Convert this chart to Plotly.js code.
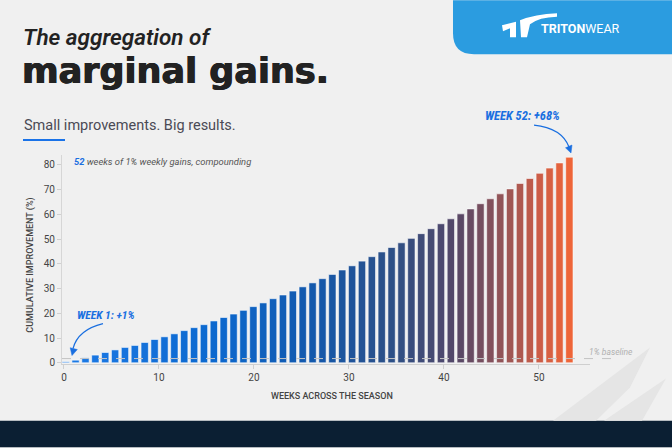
<!DOCTYPE html>
<html><head><meta charset="utf-8">
<script src="https://cdn.plot.ly/plotly-3.0.1.min.js"></script>
<style>html,body{margin:0;padding:0;background:#f0f0f0;}#chart{width:672px;height:448px;}</style>
</head><body><div id="chart"></div>
<script>
// ---- data ----
const weeks = [0,1,2,3,4,5,6,7,8,9,10,11,12,13,14,15,16,17,18,19,20,21,22,23,24,25,26,27,28,29,30,31,32,33,34,35,36,37,38,39,40,41,42,43,44,45,46,47,48,49,50,51];
const improvement = [0.4,1.05,2.0,3.1,4.15,5.2,6.2,7.0,8.2,9.4,10.5,11.7,13.0,14.2,15.4,16.9,18.3,19.7,21.2,22.7,24.2,25.9,27.4,29.0,30.7,32.3,34.0,35.7,37.5,39.2,41.1,42.9,44.8,46.6,48.5,50.3,52.2,54.2,56.2,58.2,60.2,62.2,64.3,66.3,68.3,70.3,72.5,74.5,76.6,78.7,80.8,83.1];
const xTickVals = [0,10,20,30,40,50];
const yTickVals = [0,10,20,30,40,50,60,70,80];
const baselineValue = [1.7];

// ---- layout geometry (pixels) ----
const W = 672, H = 448;
const L = 62, R = 590, T = 155, B = 364.5;
const PW = R - L, PH = B - T;
const px = x => (x - L) / PW;
const py = y => (B - y) / PH;
function path(cmds){
  return cmds.map(c => c[0] + ' ' + c.slice(1).reduce((a,v,i)=>{a.push(i%2===0?px(v).toFixed(5):py(v).toFixed(5));return a;},[]).join(',')).join(' ');
}

// gradient colours
const stops = [[0,[28,122,230]],[0.3,[12,104,206]],[0.5,[20,88,170]],[0.65,[46,80,134]],[0.78,[87,71,102]],[0.86,[143,84,89]],[0.94,[203,93,71]],[1,[238,101,56]]];
function grad(t){
  for(let i=0;i<stops.length-1;i++){
    const [t0,c0]=stops[i],[t1,c1]=stops[i+1];
    if(t<=t1){const f=(t-t0)/(t1-t0);return 'rgb('+c0.map((v,k)=>Math.round(v+(c1[k]-v)*f)).join(',')+')';}
  }
  return 'rgb(238,101,56)';
}
const barColors = weeks.map((w,i)=>grad(i/(weeks.length-1)));

const bars = {
  type:'bar', x: weeks, y: improvement, xaxis:'x', yaxis:'y',
  width: 0.74,
  marker:{color: barColors, line:{color:'rgba(255,255,255,0.55)', width:1}},
  hoverinfo:'skip'
};
const axisCarrier = {
  type:'scatter', mode:'markers', x: xTickVals, y: xTickVals.map(()=>0), xaxis:'x2', yaxis:'y',
  marker:{opacity:0}, hoverinfo:'skip', showlegend:false
};

const blue = '#1a6fe0';
const shapes = [
  {type:'path', xref:'paper', yref:'paper', layer:'below', fillcolor:'#2b9ce0', line:{width:0},
   path: path([['M',453,0],['L',672,0],['L',672,54],['L',474,54],['Q',453,54,453,33]]) + ' Z'},
  {type:'rect', xref:'paper', yref:'paper', layer:'below', fillcolor:'#0b1f33', line:{width:0},
   x0:px(0), x1:px(672), y0:py(421.5), y1:py(448)},
  {type:'path', xref:'paper', yref:'paper', layer:'below', fillcolor:'#e5e5e5', line:{width:0},
   path: path([['M',553,421.5],['L',650,348],['L',630,388],['L',596,421.5]]) + ' Z'},
  {type:'path', xref:'paper', yref:'paper', layer:'below', fillcolor:'#e5e5e5', line:{width:0},
   path: path([['M',604,421.5],['L',666,379],['L',642,421.5]]) + ' Z'},
  {type:'rect', xref:'paper', yref:'paper', fillcolor:'#1a73e8', line:{width:0},
   x0:px(23), x1:px(65), y0:py(141), y1:py(139)},
  {type:'line', xref:'paper', yref:'y', x0:0, x1:px(617), y0:baselineValue[0], y1:baselineValue[0],
   line:{color:'#c4c4c4', width:1, dash:'dash'}},
  {type:'path', xref:'paper', yref:'paper', fillcolor:'#ffffff', line:{width:0},
   path: path([['M',502,25],['L',516,21.5],['L',516,37],['L',510,37],['L',510,28],['L',503,31]]) + ' Z'},
  {type:'path', xref:'paper', yref:'paper', fillcolor:'#ffffff', line:{width:0},
   path: path([['M',520,20],['Q',535,14,557,13],['L',557,16.5],['Q',539,17,530,24],['L',527,37],['L',521,37]]) + ' Z'},
  {type:'path', xref:'paper', yref:'paper', line:{color:blue, width:1.2},
   path: path([['M',534,125],['Q',562,128,569,147]])},
  {type:'path', xref:'paper', yref:'paper', fillcolor:blue, line:{color:blue, width:0.5},
   path: path([['M',571,153],['L',572,145],['L',565.5,147.8]]) + ' Z'},
  {type:'path', xref:'paper', yref:'paper', line:{color:blue, width:1.2},
   path: path([['M',103,324],['Q',78,330,73,349]])},
  {type:'path', xref:'paper', yref:'paper', fillcolor:blue, line:{color:blue, width:0.5},
   path: path([['M',72,356],['L',77.3,350],['L',70.2,348.2]]) + ' Z'}
];

const ann = (text, x, y, font, extra) => Object.assign({
  text, xref:'paper', yref:'paper', x:px(x), y:py(y), showarrow:false,
  xanchor:'left', yanchor:'middle', font
}, extra||{});

const narrow = 'Liberation Sans Narrow, Roboto Condensed, Roboto, sans-serif';
const annotations = [
  ann('The aggregation of', 21, 37, {family:'Roboto, sans-serif', size:22.5, color:'#222', style:'italic', weight:600}),
  ann('marginal gains.', 20, 71, {family:'DejaVu Sans, sans-serif', size:35, color:'#222', weight:700, shadow:'0.7px 0 0 #222, -0.4px 0 0 #222'}),
  ann('Small improvements. Big results.', 22, 125.5, {family:'Roboto, sans-serif', size:14.5, color:'#4a4a55'}),
  ann('<b>TRITON</b>WEAR', 539, 28.5, {family:'Roboto, sans-serif', size:12.5, color:'#ffffff'}),
  ann('<b style="color:#1a6fe0">52</b> weeks of 1% weekly gains, compounding', 72, 161.5, {family:'Roboto, sans-serif', size:9.4, color:'#555', style:'italic'}),
  ann('WEEK 52: +68%', 483, 115, {family:narrow, size:12.5, color:blue, style:'italic', weight:700}),
  ann('WEEK 1: +1%', 75, 315, {family:narrow, size:11.5, color:blue, style:'italic', weight:700}),
  ann('1% baseline', 587, 352, {family:'Roboto, sans-serif', size:8.5, color:'#b0b0b0', style:'italic'}),
  ann('CUMULATIVE IMPROVEMENT (%)', 31, 265, {family:'Roboto, sans-serif', size:9, color:'#444', weight:500}, {textangle:-90, xanchor:'center'}),
  ann('WEEKS ACROSS THE SEASON', 332, 397, {family:'Roboto, sans-serif', size:9, color:'#444', weight:500}, {xanchor:'center'})
];

const tickFont = {family:'Roboto, sans-serif', size:10, color:'#444'};
const layout = {
  width:W, height:H,
  margin:{l:L, r:W-R, t:T, b:H-B, pad:0},
  paper_bgcolor:'#f0f0f0', plot_bgcolor:'rgba(0,0,0,0)',
  showlegend:false, bargap:0,
  xaxis:{range:[-0.375, 53.09], visible:false, fixedrange:true},
  xaxis2:{overlaying:'x', anchor:'y', side:'bottom', range:[-0.21, 55.37], tickvals:xTickVals,
    showgrid:false, zeroline:false, showline:true, linecolor:'#cfcfcf', linewidth:1,
    ticks:'outside', ticklen:4, tickcolor:'#cfcfcf', tickfont:tickFont},
  yaxis:{range:[-0.5, 84], tickvals:yTickVals, showgrid:false, zeroline:false,
    showline:true, linecolor:'#d6d6d6', linewidth:1, ticks:'outside', ticklen:4, tickcolor:'#d0d0d0',
    tickfont:tickFont},
  shapes, annotations
};
Plotly.newPlot('chart', [bars, axisCarrier], layout, {displayModeBar:false, staticPlot:true});
</script></body></html>
